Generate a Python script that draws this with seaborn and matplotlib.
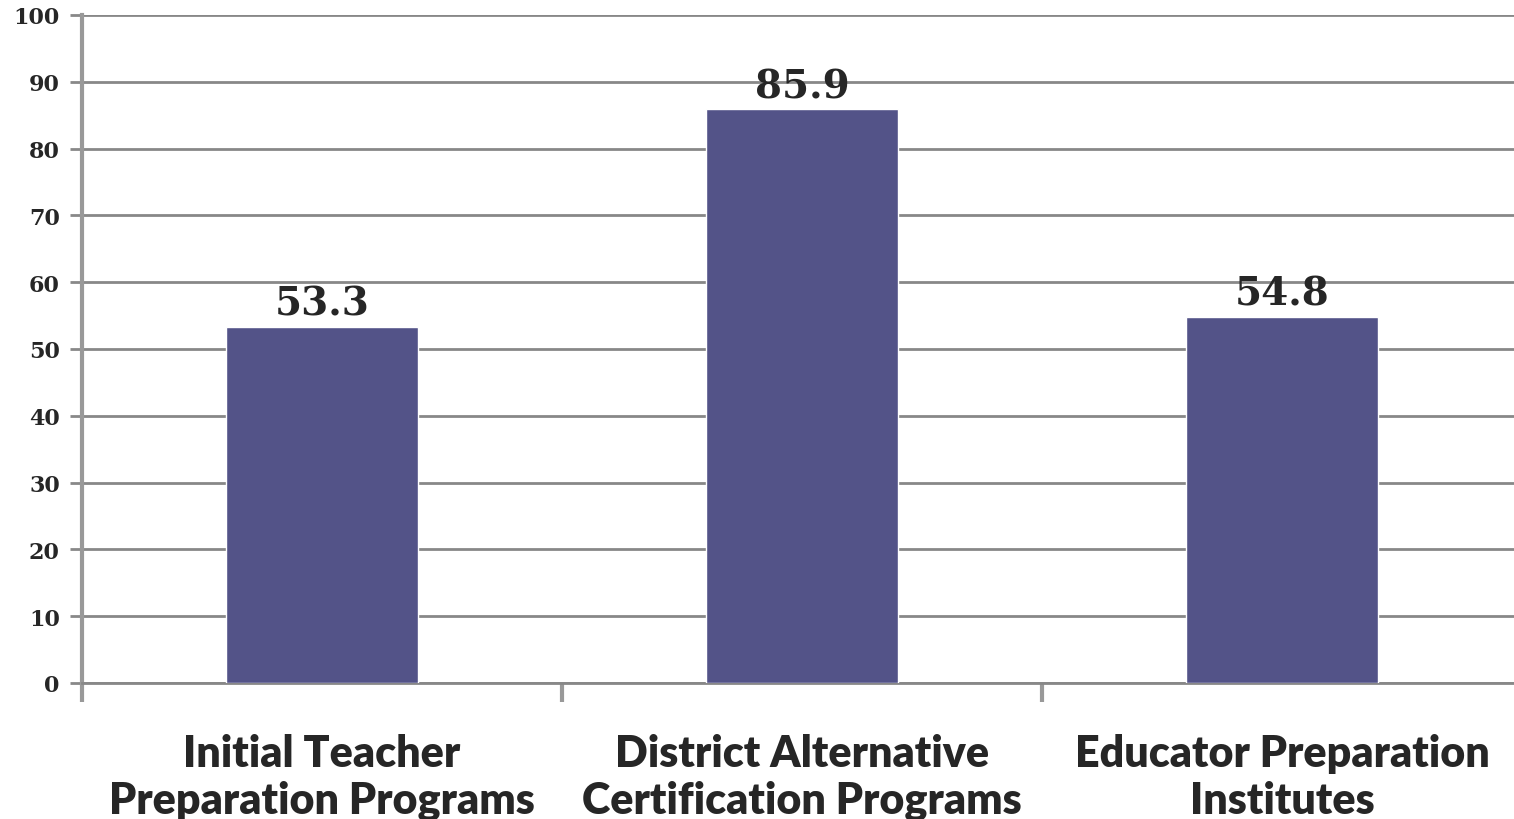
import matplotlib
matplotlib.use("Agg")
import matplotlib.pyplot as plt
import seaborn as sns
import pandas as pd

categories = ["Initial Teacher\nPreparation Programs",
              "District Alternative\nCertification Programs",
              "Educator Preparation\nInstitutes"]
values = [53.3, 85.9, 54.8]
value_labels = ["53.3", "85.9", "54.8"]
y_ticks = [0, 10, 20, 30, 40, 50, 60, 70, 80, 90, 100]

sns.set_theme(style="white")
plt.rcParams['font.family'] = ['Lato', 'DejaVu Sans']

df = pd.DataFrame({"cat": categories, "val": values})

fig = plt.figure(figsize=(15.14, 8.2), dpi=100)
W, H = 1514, 820
ax = fig.add_axes([82 / W, 1 - 684 / H, 1440 / W, (684 - 16) / H])

sns.barplot(data=df, x="cat", y="val", color="#535388", width=0.4,
            saturation=1, ax=ax, zorder=3)

ax.set_xlim(-0.5, 2.5)
ax.set_ylim(0, 100)
ax.set_yticks(y_ticks)
ax.set_yticklabels([str(t) for t in y_ticks], family=['DejaVu Serif'],
                   fontweight='bold', fontsize=16)
ax.set_xlabel("")
ax.set_ylabel("")
ax.grid(axis='y', color='#888888', linewidth=2, zorder=0)
ax.set_axisbelow(True)

for s in ["top", "right"]:
    ax.spines[s].set_visible(False)
ax.spines["left"].set_color("#999999")
ax.spines["left"].set_linewidth(3)
ax.spines["bottom"].set_color("#888888")
ax.spines["bottom"].set_linewidth(2)

# x ticks at category boundaries
ax.set_xticks([0, 1, 2])
ax.set_xticklabels(categories, fontsize=31, fontweight='heavy', linespacing=1.2)
ax.tick_params(axis='x', which='major', length=0, pad=36)
ax.set_xticks([-0.5, 0.5, 1.5], minor=True)
ax.tick_params(axis='x', which='minor', bottom=True, length=14, width=3,
               color='#999999', direction='out')
ax.tick_params(axis='y', which='major', left=True, length=9, width=2,
               color='#888888', direction='out', pad=7)

for i, (v, lab) in enumerate(zip(values, value_labels)):
    ax.text(i, v + 0.6, lab, ha='center', va='bottom', fontsize=28,
            fontweight='bold', family=['DejaVu Serif'], zorder=5)

fig.savefig("out.png", dpi=100)
